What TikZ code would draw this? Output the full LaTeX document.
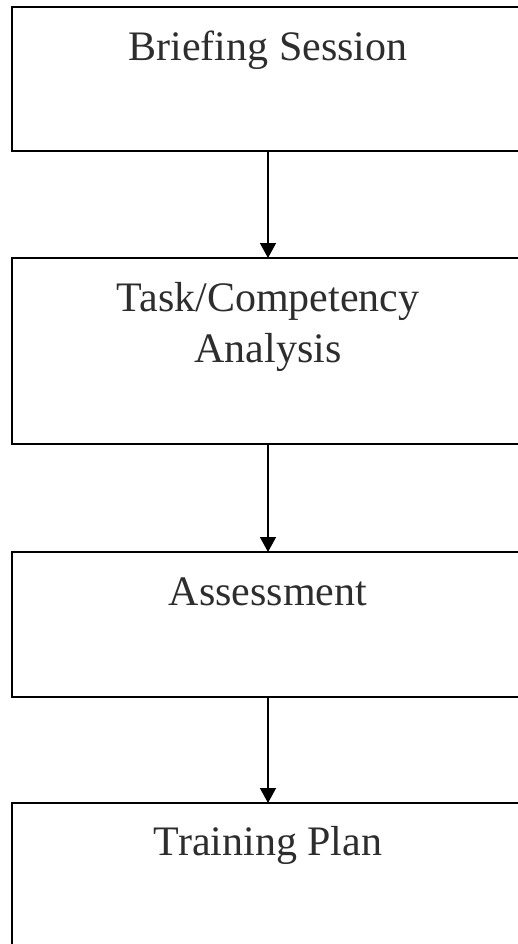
\documentclass[tikz,border=0pt]{standalone}
\usepackage{fontspec}
\setmainfont{Liberation Serif}
\usetikzlibrary{arrows.meta}
\definecolor{txt}{RGB}{45,45,45}
\begin{document}
\begin{tikzpicture}[x=1pt,y=-1pt,
  stagebox/.style={draw=black,line width=2pt,rectangle,minimum width=512pt,outer sep=0pt,inner sep=0pt},
  stagetext/.style={anchor=base,align=center,text=txt,font=\fontsize{42}{51}\selectfont,inner sep=0pt},
  arr/.style={draw=black,line width=1.5pt,-{Triangle[width=16pt,length=15pt]}}]
\useasboundingbox (0,0) rectangle (518,944);
\node[stagebox,minimum height=144pt] (b1) at (268,79) {};
\node[stagebox,minimum height=186pt] (b2) at (268,351) {};
\node[stagebox,minimum height=145pt] (b3) at (268,624.5) {};
\node[stagebox,minimum height=170pt] (b4) at (268,888) {};
\node[stagetext] (t1) at ([yshift=-54pt]b1.north) {Briefing Session};
\node[stagetext] (t2) at ([yshift=-104pt]b2.north) {Task/Competency\\Analysis};
\node[stagetext] (t3) at ([yshift=-53pt]b3.north) {Assessment};
\node[stagetext] (t4) at ([yshift=-52pt]b4.north) {Training Plan};
\draw[arr] (b1) -- (b2);
\draw[arr] (b2) -- (b3);
\draw[arr] (b3) -- (b4);
\end{tikzpicture}
\end{document}
